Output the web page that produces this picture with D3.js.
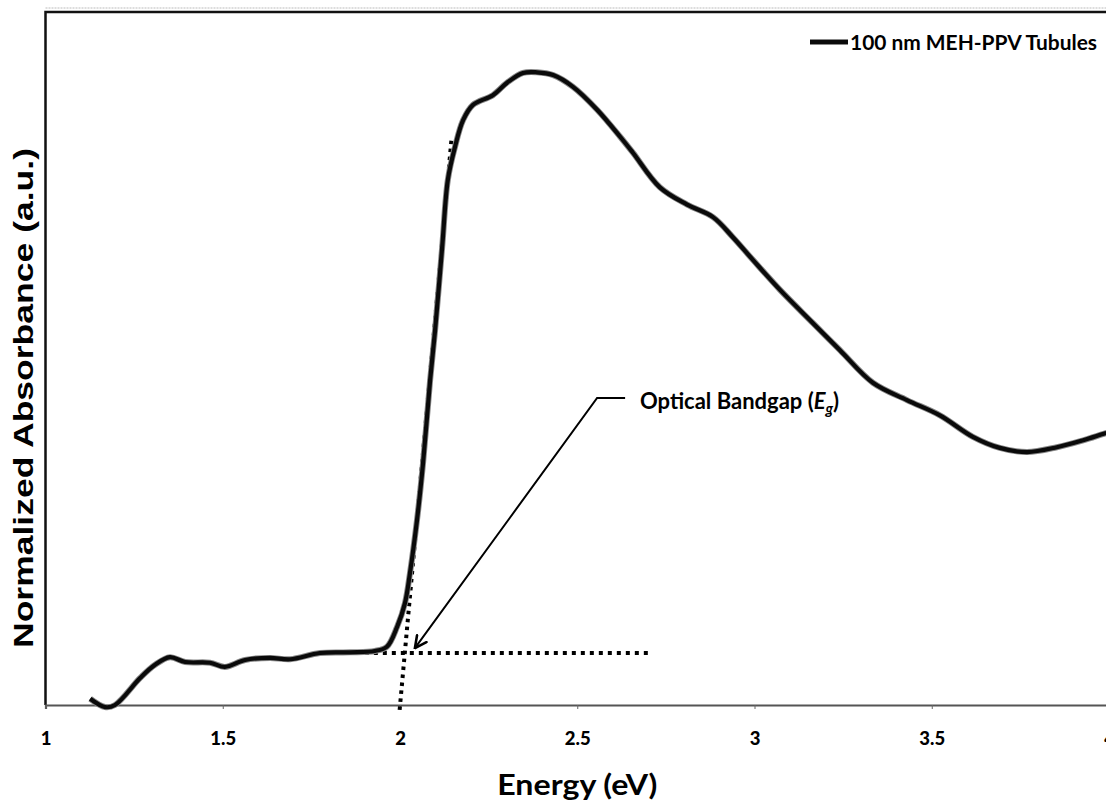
<!DOCTYPE html>
<html>
<head>
<meta charset="utf-8">
<script src="https://cdn.jsdelivr.net/npm/d3@7"></script>
<style>
  html, body { margin: 0; padding: 0; background: #fff; }
  svg { display: block; }
</style>
</head>
<body>
<svg id="chart" width="1106" height="801"></svg>
<script>
// Absorbance spectrum of 100 nm MEH-PPV tubules (energy in eV, normalized absorbance)
const energy = [1.126, 1.168, 1.196, 1.267, 1.309, 1.351, 1.394, 1.464, 1.506, 1.563,
  1.633, 1.690, 1.774, 1.859, 1.929, 1.963, 1.992, 2.014, 2.028, 2.048,
  2.065, 2.085, 2.099, 2.119, 2.135, 2.155, 2.178, 2.206, 2.262, 2.302,
  2.347, 2.386, 2.432, 2.488, 2.556, 2.621, 2.657, 2.733, 2.810, 2.883,
  2.939, 2.996, 3.072, 3.165, 3.241, 3.334, 3.430, 3.523, 3.616, 3.692,
  3.769, 3.853, 3.927, 3.989, 4.010];
const absorbance = [0.009, -0.003, 0.000, 0.039, 0.058, 0.069, 0.062, 0.061, 0.055, 0.065,
  0.068, 0.066, 0.075, 0.076, 0.078, 0.084, 0.113, 0.147, 0.190, 0.267,
  0.349, 0.469, 0.541, 0.661, 0.758, 0.805, 0.844, 0.866, 0.880, 0.898,
  0.912, 0.913, 0.909, 0.892, 0.859, 0.820, 0.797, 0.747, 0.722, 0.704,
  0.675, 0.642, 0.599, 0.551, 0.512, 0.465, 0.440, 0.418, 0.387, 0.371,
  0.365, 0.372, 0.382, 0.392, 0.395];

// Construction lines for the bandgap estimate
const baselineFitX = [1.85, 2.70];
const baselineFitY = [0.075, 0.075];
const edgeFitX = [1.999, 2.145];
const edgeFitY = [-0.007, 0.815];

// Annotation path (arrow tip, elbow, end) in data units
const calloutX = [2.042, 2.556, 2.635];
const calloutY = [0.082, 0.443, 0.443];

const xTicks = [1, 1.5, 2, 2.5, 3, 3.5, 4];
const seriesName = "100 nm MEH-PPV Tubules";

const svg = d3.select("#chart");
const plotLeft = 45.5, plotTop = 12, plotBottom = 705, plotRight = 1109;

const x = d3.scaleLinear().domain([1, 4]).range([plotLeft, plotRight]);
const y = d3.scaleLinear().domain([0, 1]).range([plotBottom, plotTop]);

svg.append("defs").append("marker")
  .attr("id", "arrowhead")
  .attr("viewBox", "0 0 12 12")
  .attr("refX", 11).attr("refY", 6)
  .attr("markerWidth", 14).attr("markerHeight", 14)
  .attr("markerUnits", "userSpaceOnUse")
  .attr("orient", "auto")
  .append("path")
  .attr("d", "M1,1 L11,6 L1,11")
  .attr("fill", "none")
  .attr("stroke", "#000")
  .attr("stroke-width", 2.2)
  .attr("stroke-linecap", "round");

// Outer chart border (faint)
svg.append("line")
  .attr("x1", plotLeft).attr("x2", 1106).attr("y1", 8).attr("y2", 8)
  .attr("stroke", "#bbb").attr("stroke-width", 1).attr("stroke-dasharray", "2 1");

// Plot frame: top and left edges
svg.append("path")
  .attr("d", `M${plotLeft},${plotBottom} L${plotLeft},${plotTop} L1106,${plotTop}`)
  .attr("fill", "none").attr("stroke", "#111").attr("stroke-width", 2.5);

// X axis
const xAxis = d3.axisBottom(x).tickValues(xTicks).tickSize(4).tickFormat(d3.format("~g"));
const gx = svg.append("g").attr("transform", `translate(0,${plotBottom})`).call(xAxis);
gx.select(".domain").attr("stroke", "#555").attr("stroke-width", 2.2);
gx.selectAll(".tick line").attr("stroke", "#666").attr("stroke-width", 1);
gx.selectAll(".tick text")
  .attr("y", 0).attr("dy", 0)
  .attr("transform", "translate(0,40)")
  .attr("font-family", "Lato, 'Open Sans', sans-serif")
  .attr("font-weight", 900)
  .attr("font-size", 18.5)
  .attr("fill", "#000");

// Axis titles
svg.append("text")
  .attr("x", x(2.5)).attr("y", 795)
  .attr("text-anchor", "middle")
  .attr("font-family", "Lato, 'Open Sans', sans-serif")
  .attr("font-weight", 700).attr("font-size", 29)
  .attr("textLength", 160).attr("lengthAdjust", "spacingAndGlyphs")
  .text("Energy (eV)");

svg.append("text")
  .attr("transform", "translate(33,398) rotate(-90)")
  .attr("text-anchor", "middle")
  .attr("font-family", "'Liberation Sans', Arial, sans-serif")
  .attr("font-weight", 700).attr("font-size", 27)
  .attr("textLength", 500).attr("lengthAdjust", "spacingAndGlyphs")
  .text("Normalized Absorbance (a.u.)");

// Construction lines
const seg = d3.line().x(d => x(d[0])).y(d => y(d[1]));
svg.append("path")
  .attr("d", seg(d3.zip(baselineFitX, baselineFitY)))
  .attr("fill", "none").attr("stroke", "#000")
  .attr("stroke-width", 4).attr("stroke-dasharray", "4 5");
svg.append("path")
  .attr("d", seg(d3.zip(edgeFitX, edgeFitY)))
  .attr("fill", "none").attr("stroke", "#000")
  .attr("stroke-width", 4).attr("stroke-dasharray", "3.5 4.5");

// Spectrum
const spectrum = d3.zip(energy, absorbance);
const line = d3.line().x(d => x(d[0])).y(d => y(d[1])).curve(d3.curveCatmullRom.alpha(0.5));
svg.append("path")
  .attr("d", line(spectrum))
  .attr("fill", "none").attr("stroke", "#888")
  .attr("stroke-width", 6).attr("stroke-linejoin", "round");
svg.append("path")
  .attr("d", line(spectrum))
  .attr("fill", "none").attr("stroke", "#0a0a0a")
  .attr("stroke-width", 4.2).attr("stroke-linejoin", "round");

// Bandgap callout
const callout = d3.zip(calloutX, calloutY).reverse();
svg.append("path")
  .attr("d", seg(callout))
  .attr("fill", "none").attr("stroke", "#000").attr("stroke-width", 2)
  .attr("marker-end", "url(#arrowhead)");

const lab = svg.append("text")
  .attr("x", x(2.677)).attr("y", y(0.426) - 1)
  .attr("font-family", "Lato, 'Open Sans', sans-serif")
  .attr("font-weight", 700).attr("font-size", 22)
  .attr("fill", "#000");
lab.append("tspan").text("Optical Bandgap (");
lab.append("tspan").attr("font-style", "italic").text("E");
lab.append("tspan").attr("font-style", "italic").attr("font-size", 15).attr("dy", 5).text("g");
lab.append("tspan").attr("dy", -5).text(")");

// Legend
const legend = svg.append("g").attr("transform", "translate(810,42)");
legend.append("line")
  .attr("x1", 0).attr("x2", 38).attr("y1", 0).attr("y2", 0)
  .attr("stroke", "#888").attr("stroke-width", 6);
legend.append("line")
  .attr("x1", 0).attr("x2", 38).attr("y1", 0).attr("y2", 0)
  .attr("stroke", "#0a0a0a").attr("stroke-width", 4.2);
legend.append("text")
  .attr("x", 40).attr("y", 8)
  .attr("font-family", "Lato, 'Open Sans', sans-serif")
  .attr("font-weight", 700).attr("font-size", 21)
  .attr("textLength", 247).attr("lengthAdjust", "spacingAndGlyphs")
  .text(seriesName);
</script>
</body>
</html>
